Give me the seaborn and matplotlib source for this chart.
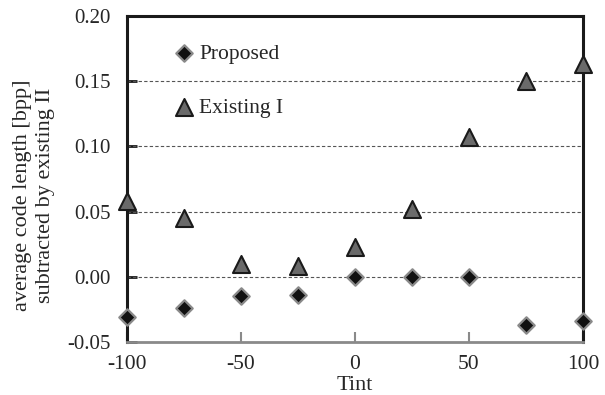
import numpy as np
import pandas as pd
import matplotlib
matplotlib.use("Agg")
import matplotlib.pyplot as plt
import seaborn as sns

tint = [-100, -75, -50, -25, 0, 25, 50, 75, 100]
proposed = [-0.031, -0.024, -0.015, -0.014, 0.000, 0.000, 0.000, -0.037, -0.034]
existing_1 = [0.058, 0.045, 0.010, 0.008, 0.023, 0.052, 0.107, 0.150, 0.163]

sns.set_style("white")
plt.rcParams['font.family'] = ['Liberation Serif', 'DejaVu Serif']

df = pd.DataFrame({"Tint": tint, "Proposed": proposed, "Existing I": existing_1})

fig = plt.figure(figsize=(6.05, 3.95), dpi=100)
ax = fig.add_axes([0.21, 0.134, 0.7536, 0.8255])

# dashed grid lines behind the markers
for yv in [0.0, 0.05, 0.10, 0.15]:
    ax.axhline(yv, color='#555555', lw=0.8, ls=(0, (3, 2)), zorder=1)

sns.scatterplot(data=df, x="Tint", y="Proposed", ax=ax, marker='D', s=70,
                color='#111111', edgecolor='#8a8a8a', linewidth=1.6,
                label='Proposed', clip_on=False, zorder=6)
sns.scatterplot(data=df, x="Tint", y="Existing I", ax=ax, marker='^', s=150,
                color='#6a6a6a', edgecolor='#1a1a1a', linewidth=1.5,
                label='Existing I', clip_on=False, zorder=5)

ax.set_xlim(-100, 100)
ax.set_ylim(-0.05, 0.20)
ax.set_xticks([-100, -50, 0, 50, 100])
ax.set_yticks([-0.05, 0.0, 0.05, 0.10, 0.15, 0.20])
ax.set_yticklabels(['-0.05', '0.00', '0.05', '0.10', '0.15', '0.20'])
ax.set_xticklabels(['-100', '-50', '0', '50', '100'])

for side in ['left', 'top', 'right']:
    ax.spines[side].set_color('#1a1a1a')
    ax.spines[side].set_linewidth(2.2)
ax.spines['bottom'].set_color('#8a8a8a')
ax.spines['bottom'].set_linewidth(2.0)

ax.tick_params(axis='y', direction='in', length=7, width=2, color='#1a1a1a',
               labelsize=15, pad=12, left=True)
ax.tick_params(axis='x', direction='in', length=7, width=1.5, color='#8a8a8a',
               labelsize=15.5, pad=9, bottom=True)

ax.set_xlabel("Tint", fontsize=16, labelpad=2)
ax.set_ylabel("average code length [bpp]\nsubtracted by existing II", fontsize=16,
              linespacing=1.3)
ax.yaxis.set_label_coords(-0.158, 0.45)

ax.legend(loc='upper left', bbox_to_anchor=(0.055, 0.975), frameon=False,
          fontsize=15.5, labelspacing=1.6, handletextpad=0.1, markerscale=1.0,
          handlelength=1.2)

fig.savefig("out.png", dpi=100)
